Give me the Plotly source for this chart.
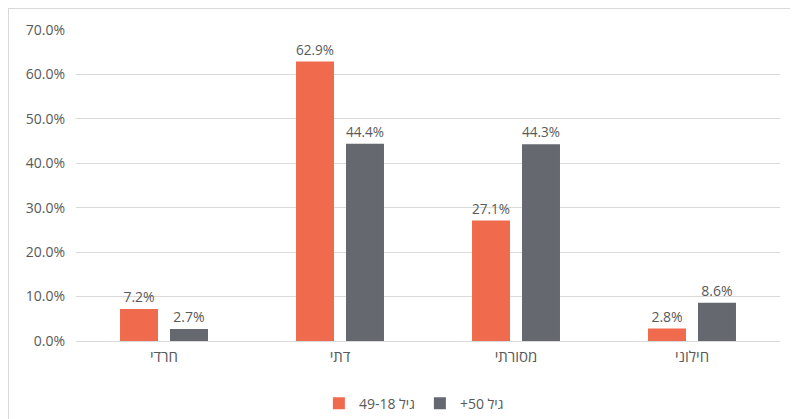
import plotly.graph_objects as go

categories = ["חרדי", "דתי", "מסורתי", "חילוני"]
series_names = ["49-18 גיל", "+50 גיל"]
young_values = [0.072, 0.629, 0.271, 0.028]
old_values = [0.027, 0.444, 0.443, 0.086]
colors = ["#F06B4D", "#666870"]

text_color = "#595959"
font_family = "Open Sans, Noto Sans, sans-serif"

W, H = 790, 411
L, R, T, B = 68, 18, 22, 78
pw, ph = W - L - R, H - T - B

fig = go.Figure()
for name, vals, col in zip(series_names, [young_values, old_values], colors):
    fig.add_trace(go.Bar(
        x=categories, y=vals, name=name,
        marker=dict(color=col, line=dict(width=0)),
        texttemplate="%{y:.1%}", textposition="outside",
        textfont=dict(size=14, color=text_color, family=font_family),
        cliponaxis=False,
    ))

fig.update_layout(
    width=W, height=H,
    margin=dict(l=L, r=R, t=T, b=B, autoexpand=False),
    paper_bgcolor="white", plot_bgcolor="white",
    barmode="group", bargap=0.432, bargroupgap=0.24,
    font=dict(family=font_family, color=text_color),
    showlegend=True,
    legend=dict(orientation="h", x=0.345, xanchor="left", y=-0.15, yanchor="top",
                font=dict(size=14, color=text_color), itemwidth=30,
                traceorder="normal"),
    xaxis=dict(showgrid=False, showline=True, linecolor="#D9D9D9", linewidth=1,
               ticks="", automargin=False, ticklabelstandoff=2,
               tickfont=dict(size=15, color=text_color)),
    yaxis=dict(range=[0, 0.7], dtick=0.1, tickformat=".1%", showgrid=True,
               gridcolor="#D9D9D9", gridwidth=1, zeroline=False, showline=False,
               ticks="", automargin=False, ticklabelstandoff=10,
               tickfont=dict(size=14, color=text_color)),
    shapes=[
        dict(type="line", xref="paper", yref="paper",
             x0=-L / pw, x1=(W - L) / pw, y0=(ph + T - 0.5) / ph, y1=(ph + T - 0.5) / ph,
             line=dict(color="#D9D9D9", width=1)),
        dict(type="line", xref="paper", yref="paper",
             x0=(-L + 0.5) / pw, x1=(-L + 0.5) / pw, y0=(ph + T) / ph, y1=-B / ph,
             line=dict(color="#D9D9D9", width=1)),
    ],
)

fig.write_html("out.html")
